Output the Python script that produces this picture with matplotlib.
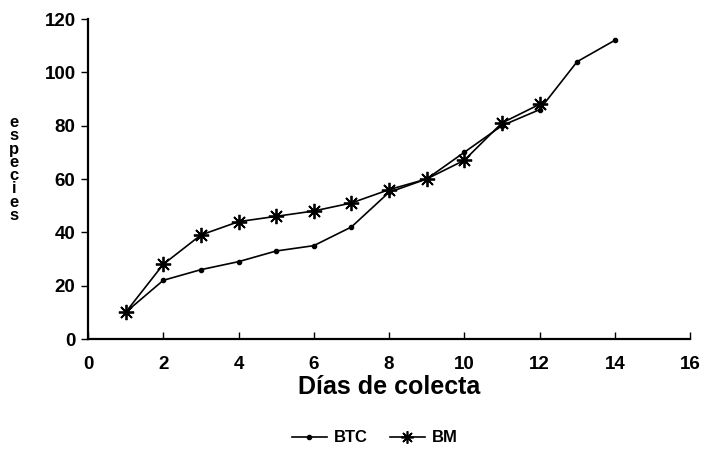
import matplotlib
matplotlib.use("Agg")
import matplotlib.pyplot as plt
from matplotlib.lines import Line2D

# Species accumulation per collection day
dias_btc = [1, 2, 3, 4, 5, 6, 7, 8, 9, 10, 11, 12, 13, 14]
especies_btc = [10, 22, 26, 29, 33, 35, 42, 55, 60, 70, 80, 86, 104, 112]

dias_bm = [1, 2, 3, 4, 5, 6, 7, 8, 9, 10, 11, 12]
especies_bm = [10, 28, 39, 44, 46, 48, 51, 56, 60, 67, 81, 88]

x_ticks = [0, 2, 4, 6, 8, 10, 12, 14, 16]
y_ticks = [0, 20, 40, 60, 80, 100, 120]

plt.rcParams['font.family'] = ['Liberation Sans', 'DejaVu Sans']

fig = plt.figure(figsize=(7.03, 4.49), dpi=100)
ax = fig.add_axes([88 / 703, 110 / 449, (690 - 88) / 703, (339 - 19) / 449])

ax.plot(dias_btc, especies_btc, color='black', lw=1.2, marker='o',
        markersize=3, label='BTC')
ax.plot(dias_bm, especies_bm, color='black', lw=1.2, marker=(8, 2, 0),
        markersize=11, markeredgewidth=1.3, label='BM')

ax.set_xlim(0, 16)
ax.set_ylim(0, 120)
ax.set_xticks(x_ticks)
ax.set_yticks(y_ticks)

for side in ('top', 'right'):
    ax.spines[side].set_visible(False)
ax.spines['left'].set_linewidth(1.6)
ax.spines['bottom'].set_linewidth(1.6)

ax.tick_params(axis='x', direction='in', length=5, width=1, pad=12)
ax.tick_params(axis='y', direction='out', length=5, width=1, pad=4)
for lbl in ax.get_xticklabels() + ax.get_yticklabels():
    lbl.set_fontweight('bold')
    lbl.set_fontsize(13.5)

ax.set_xlabel('Días de colecta', fontsize=18, fontweight='bold', labelpad=2)

# Vertical stacked-letter axis title
fig.text(14 / 703, 1 - 169 / 449, '\n'.join('especies'), ha='center',
         va='center', fontsize=12, fontweight='bold', linespacing=0.86)

handles = [
    Line2D([], [], color='black', lw=1.2, marker='o', markersize=3),
    Line2D([], [], color='black', lw=1.2, marker=(8, 2, 0), markersize=9,
           markeredgewidth=1.2),
]
fig.legend(handles, ['BTC', 'BM'], loc='center', bbox_to_anchor=(375 / 703, 1 - 438 / 449),
           ncol=2, frameon=False, prop={'weight': 'bold', 'size': 12},
           handlelength=2.1, columnspacing=1.3, handletextpad=0.45)

fig.savefig('out.png', dpi=100)
